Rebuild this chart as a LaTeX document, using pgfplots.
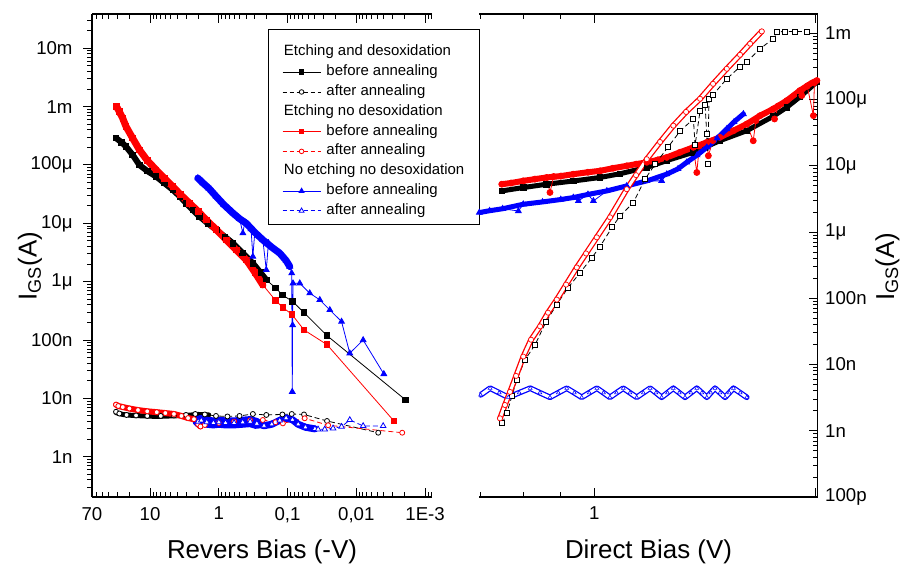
\documentclass[border=0pt]{standalone}
\usepackage{fontspec}
\setmainfont{Liberation Sans}
\usepackage{pgfplots}
\pgfplotsset{compat=1.18}

\pgfplotsset{
  ivband/.style={line width=#1, line join=round, line cap=round, forget plot},
  ivbefore/.style={line width=0.8bp, solid, forget plot},
  ivafter/.style={line width=0.8bp, dash pattern=on 5bp off 3bp, forget plot,
    mark options={solid, fill=white}},
}

\begin{document}
\begin{tikzpicture}
\useasboundingbox (0bp,0bp) rectangle (901bp,565bp);

% ---------------- reverse bias ----------------
\begin{axis}[
  scale only axis, height=483bp, width=340bp,
  xmode=log, ymode=log,
  axis line style={line width=1.2bp},
  tick style={black, line width=1bp},
  major tick length=9bp, minor tick length=5bp,
  tick label style={font=\fontsize{18.7}{21}\selectfont},
  xticklabel style={yshift=-6.5bp},
  yticklabel style={xshift=-7bp},
  label style={font=\fontsize{26}{30}\selectfont},
  xlabel style={at={(axis description cs:0.5,-0.127)}, anchor=base},
  at={(92bp,68bp)}, anchor=south west,
  x dir=reverse,
  xmin=7.93e-4, xmax=70,
  ymin=2.04e-10, ymax=0.0387,
  axis y line*=left, axis x line*=box,
  xtick align=inside, ytick align=outside,
  xtick={0.001,0.01,0.1,1,10,70},
  xticklabels={1E-3,{0,01},{0,1},1,10,70},
  minor xtick={8e-4,9e-4,2e-3,3e-3,4e-3,5e-3,6e-3,7e-3,8e-3,9e-3,
    0.02,0.03,0.04,0.05,0.06,0.07,0.08,0.09,0.2,0.3,0.4,0.5,0.6,0.7,0.8,0.9,
    2,3,4,5,6,7,8,9,20,30,40,50,60},
  ytick={1e-9,1e-8,1e-7,1e-6,1e-5,1e-4,1e-3,1e-2},
  yticklabels={1n,10n,100n,1μ,10μ,100μ,1m,10m},
  minor ytick={3e-10,4e-10,5e-10,6e-10,7e-10,8e-10,9e-10,
    2e-9,3e-9,4e-9,5e-9,6e-9,7e-9,8e-9,9e-9,
    2e-8,3e-8,4e-8,5e-8,6e-8,7e-8,8e-8,9e-8,
    2e-7,3e-7,4e-7,5e-7,6e-7,7e-7,8e-7,9e-7,
    2e-6,3e-6,4e-6,5e-6,6e-6,7e-6,8e-6,9e-6,
    2e-5,3e-5,4e-5,5e-5,6e-5,7e-5,8e-5,9e-5,
    2e-4,3e-4,4e-4,5e-4,6e-4,7e-4,8e-4,9e-4,
    2e-3,3e-3,4e-3,5e-3,6e-3,7e-3,8e-3,9e-3,2e-2,3e-2},
  xlabel={Revers Bias (-V)},
  ylabel={I\textsubscript{GS}(A)},
  ylabel style={at={(axis description cs:-0.1626,0.478)}, anchor=base},
  legend cell align=left,
  legend style={at={(0.5176,0.969)}, anchor=north west, draw=black,
    fill=white, inner xsep=14bp, inner ysep=4.7bp, row sep=2.8bp,
    column sep=4.5bp, font=\fontsize{15}{18}\selectfont,
    nodes={inner sep=1bp, text height=11bp, text depth=4bp}},
  legend image code/.code={%
    \draw[mark repeat=2, mark phase=2, #1]
      plot coordinates {(0bp,0bp) (19bp,0bp) (38bp,0bp)};},
]
% black: etching and desoxidation, before annealing
\addplot[black, ivband=6bp] coordinates {
 (31.3,2.89e-4) (26,2.45e-4) (22.4,2.07e-4) (18,1.5e-4) (14.3,1.0e-4)
 (11,7.9e-5) (8.18,6.35e-5) (6.2,4.9e-5) (4.68,3.76e-5) (3.7,2.9e-5)
 (2.99,2.22e-5) (2.4,1.7e-5) (1.91,1.31e-5) (1.45,1.0e-5) (1.09,7.74e-6)
 (0.82,5.9e-6) (0.625,4.57e-6) (0.45,3.1e-6) (0.32,2.07e-6) (0.25,1.45e-6)
 (0.204,1.07e-6)};
\addplot[black, ivbefore, mark=square*, mark size=2.8bp] coordinates {
 (31.3,2.89e-4) (26,2.45e-4) (22.4,2.07e-4) (18,1.5e-4) (14.3,1.0e-4)
 (11,7.9e-5) (8.18,6.35e-5) (6.2,4.9e-5) (4.68,3.76e-5) (3.7,2.9e-5)
 (2.99,2.22e-5) (2.4,1.7e-5) (1.91,1.31e-5) (1.45,1.0e-5) (1.09,7.74e-6)
 (0.82,5.9e-6) (0.625,4.57e-6) (0.45,3.1e-6) (0.32,2.07e-6) (0.25,1.45e-6)
 (0.204,1.07e-6) (0.149,7.83e-7) (0.119,5.94e-7) (0.0843,4.56e-7)
 (0.0577,2.95e-7) (0.0267,1.19e-7) (1.92e-3,9.4e-9)};
% red: etching no desoxidation, before annealing
\addplot[red, ivband=7bp] coordinates {
 (30.7,1.0e-3) (28,8.2e-4) (25,6.3e-4) (22.4,4.57e-4) (18,2.9e-4)
 (14.3,1.82e-4) (11,1.2e-4) (8.18,8.28e-5) (6.2,5.9e-5) (4.68,4.28e-5)
 (3.6,3.1e-5) (2.67,2.22e-5) (2.0,1.6e-5) (1.53,1.15e-5) (1.1,7.9e-6)
 (0.78,5.21e-6) (0.56,3.5e-6) (0.399,2.37e-6) (0.3,1.45e-6) (0.229,8.8e-7)};
\addplot[red, ivbefore, mark=square*, mark size=2.8bp] coordinates {
 (30.7,1.0e-3) (28,8.2e-4) (25,6.3e-4) (22.4,4.57e-4) (18,2.9e-4)
 (14.3,1.82e-4) (11,1.2e-4) (8.18,8.28e-5) (6.2,5.9e-5) (4.68,4.28e-5)
 (3.6,3.1e-5) (2.67,2.22e-5) (2.0,1.6e-5) (1.53,1.15e-5) (1.1,7.9e-6)
 (0.78,5.21e-6) (0.56,3.5e-6) (0.399,2.37e-6) (0.3,1.45e-6) (0.229,8.8e-7)
 (0.149,4.74e-7) (0.117,3.6e-7) (0.087,2.77e-7) (0.0577,1.49e-7)
 (0.0267,8.34e-8) (2.84e-3,4.1e-9)};
% blue: no etching no desoxidation, before annealing
\addplot[blue, ivband=7bp] coordinates {
 (2.02,5.96e-5) (1.7,4.9e-5) (1.4,4.0e-5) (1.09,2.88e-5) (0.85,2.1e-5)
 (0.625,1.5e-5) (0.5,1.2e-5) (0.399,1.0e-5) (0.3,7.0e-6) (0.229,5.2e-6)
 (0.17,3.9e-6) (0.13,3.08e-6) (0.105,2.3e-6) (0.093,1.82e-6)};
\addplot[blue, ivbefore, mark=triangle*, mark size=3.3bp] coordinates {
 (2.02,5.96e-5) (1.7,4.9e-5) (1.4,4.0e-5) (1.09,2.88e-5) (0.85,2.1e-5)
 (0.625,1.5e-5) (0.5,1.2e-5) (0.447,6.8e-6) (0.42,1.05e-5) (0.399,1.0e-5)
 (0.34,8.0e-6) (0.32,2.7e-6) (0.3,7.0e-6) (0.229,5.2e-6) (0.204,1.59e-6)
 (0.19,4.6e-6) (0.17,3.9e-6) (0.13,3.08e-6) (0.105,2.3e-6) (0.093,1.82e-6)
 (0.087,1.4e-6) (0.0855,1.3e-8) (0.0845,1.8e-7) (0.0834,9.4e-7)
 (0.0665,9.4e-7) (0.0476,6.35e-7) (0.034,4.88e-7) (0.0243,3.28e-7)
 (0.0164,2.07e-7) (0.01245,5.94e-8) (7.96e-3,1.0e-7) (3.98e-3,2.62e-8)};
% after annealing
\addplot[black, ivband=5bp] coordinates {
 (31.3,5.7e-9) (25,5.3e-9) (18,5.1e-9) (12,5.0e-9) (8,4.9e-9) (5,5.0e-9)
 (3,5.1e-9) (2.0,5.3e-9) (1.4,5.2e-9)};
\addplot[black, ivafter, mark=*, mark size=2.5bp] coordinates {
 (31.3,5.9e-9) (28,5.5e-9) (22,5.2e-9) (16,5.1e-9) (11,5.0e-9) (7,5.0e-9)
 (4.5,5.1e-9) (3,5.2e-9) (2.2,5.4e-9) (1.6,5.3e-9) (1.1,5.0e-9)
 (0.75,4.9e-9) (0.5,5.0e-9) (0.32,5.4e-9) (0.204,5.2e-9) (0.119,5.3e-9)
 (0.087,5.4e-9) (0.0577,5.3e-9) (0.0267,4.1e-9) (4.8e-3,2.58e-9)};
\addplot[red, ivband=6bp] coordinates {
 (31.3,7.8e-9) (29,7.4e-9) (25,7.1e-9) (20,6.7e-9) (15,6.3e-9) (11,6.0e-9)
 (8,5.8e-9) (6,5.6e-9) (4.5,5.4e-9) (3.5,5.0e-9) (2.8,4.6e-9) (2.3,4.4e-9)
 (2.0,3.6e-9) (1.85,3.3e-9)};
\addplot[red, ivafter, mark=*, mark size=2.5bp] coordinates {
 (31.3,7.8e-9) (29,7.4e-9) (25,7.1e-9) (20,6.7e-9) (15,6.3e-9) (11,6.0e-9)
 (8,5.8e-9) (6,5.6e-9) (4.5,5.4e-9) (3.5,5.0e-9) (2.8,4.6e-9) (2.3,4.4e-9)
 (2.0,3.6e-9) (1.85,3.3e-9) (1.6,3.5e-9) (1.0,3.8e-9) (0.6,4.0e-9)
 (0.35,4.2e-9) (0.229,4.26e-9) (0.15,3.9e-9) (0.117,3.73e-9)
 (0.0564,4.56e-9) (0.0257,3.46e-9) (2.15e-3,2.58e-9)};
\addplot[blue, ivband=11bp] coordinates {
 (2.0,4.0e-9) (1.8,4.2e-9) (1.5,3.9e-9) (1.2,3.8e-9) (1.0,3.9e-9)
 (0.8,3.8e-9) (0.6,3.8e-9) (0.45,3.9e-9) (0.35,4.0e-9) (0.28,3.7e-9)};
\addplot[blue, ivband=7bp] coordinates {
 (0.28,3.7e-9) (0.22,3.4e-9) (0.17,3.6e-9) (0.13,4.2e-9) (0.105,4.6e-9)
 (0.085,4.3e-9) (0.07,3.6e-9) (0.055,3.2e-9) (0.04,3.0e-9)};
\addplot[blue, ivafter, mark=triangle*, mark size=3.2bp] coordinates {
 (2.0,4.0e-9) (1.8,4.2e-9) (1.5,3.9e-9) (1.2,3.8e-9) (1.0,3.9e-9)
 (0.8,3.8e-9) (0.6,3.8e-9) (0.45,3.9e-9) (0.35,4.0e-9) (0.28,3.7e-9)
 (0.22,3.4e-9) (0.17,3.6e-9) (0.13,4.2e-9) (0.105,4.6e-9) (0.085,4.3e-9)
 (0.07,3.6e-9) (0.055,3.2e-9) (0.04,3.0e-9) (0.036,2.95e-9)
 (0.0288,2.95e-9) (0.0218,3.07e-9) (0.0164,3.27e-9) (0.01245,4.27e-9)
 (7.96e-3,3.37e-9) (4.07e-3,3.37e-9)};

% legend
\addlegendimage{empty legend}
\addlegendentry[text height=21bp]{\hspace*{-42.5bp}Etching and desoxidation}
\addlegendimage{black, line width=0.8bp, mark=square*, mark size=2.3bp}
\addlegendentry{before annealing}
\addlegendimage{black, line width=0.8bp, dash pattern=on 4bp off 3bp,
  mark=*, mark size=2.3bp, mark options={solid, fill=white}}
\addlegendentry{after annealing}
\addlegendimage{empty legend}
\addlegendentry{\hspace*{-42.5bp}Etching no desoxidation}
\addlegendimage{red, line width=0.8bp, mark=square*, mark size=2.3bp}
\addlegendentry{before annealing}
\addlegendimage{red, line width=0.8bp, dash pattern=on 4bp off 3bp,
  mark=*, mark size=2.3bp, mark options={solid, fill=white}}
\addlegendentry{after annealing}
\addlegendimage{empty legend}
\addlegendentry{\hspace*{-42.5bp}No etching no desoxidation}
\addlegendimage{blue, line width=0.8bp, mark=triangle*, mark size=2.8bp}
\addlegendentry{before annealing}
\addlegendimage{blue, line width=0.8bp, dash pattern=on 4bp off 3bp,
  mark=triangle*, mark size=2.8bp, mark options={solid, fill=white}}
\addlegendentry{after annealing}
\end{axis}

% ---------------- direct bias ----------------
\begin{axis}[
  scale only axis, height=483bp, width=338.4bp,
  xmode=log, ymode=log,
  axis line style={line width=1.2bp},
  tick style={black, line width=1bp},
  major tick length=9bp, minor tick length=5bp,
  tick label style={font=\fontsize{18.7}{21}\selectfont},
  xticklabel style={yshift=-6.5bp},
  yticklabel style={xshift=4bp},
  label style={font=\fontsize{26}{30}\selectfont},
  xlabel style={at={(axis description cs:0.5,-0.127)}, anchor=base},
  at={(479.3bp,68bp)}, anchor=south west,
  xmin=0.697, xmax=2.015,
  ymin=1e-10, ymax=1.96e-3,
  axis y line*=right, axis x line*=box,
  xtick align=inside, ytick align=inside,
  xtick={1,2}, xticklabels={1,{}},
  minor xtick={0.7,0.8,0.9},
  ytick={1e-10,1e-9,1e-8,1e-7,1e-6,1e-5,1e-4,1e-3},
  yticklabels={100p,1n,10n,100n,1μ,10μ,100μ,1m},
  minor ytick={2e-10,3e-10,4e-10,5e-10,6e-10,7e-10,8e-10,9e-10,
    2e-9,3e-9,4e-9,5e-9,6e-9,7e-9,8e-9,9e-9,
    2e-8,3e-8,4e-8,5e-8,6e-8,7e-8,8e-8,9e-8,
    2e-7,3e-7,4e-7,5e-7,6e-7,7e-7,8e-7,9e-7,
    2e-6,3e-6,4e-6,5e-6,6e-6,7e-6,8e-6,9e-6,
    2e-5,3e-5,4e-5,5e-5,6e-5,7e-5,8e-5,9e-5,
    2e-4,3e-4,4e-4,5e-4,6e-4,7e-4,8e-4,9e-4},
  xlabel={Direct Bias (V)},
  ylabel={I\textsubscript{GS}(A)},
  ylabel style={at={(axis description cs:1.2255,0.4768)}, anchor=base},
]
% before annealing
\addplot[black, ivband=5bp] coordinates {
 (0.748,4.18e-6) (0.80,4.7e-6) (0.861,5.28e-6) (0.936,5.9e-6) (1.018,6.67e-6)
 (1.084,7.6e-6) (1.179,9.46e-6) (1.255,1.2e-5) (1.364,1.6e-5) (1.483,2.4e-5)
 (1.613,3.39e-5) (1.753,5.6e-5) (1.829,7.67e-5) (1.906,1.1e-4) (2.009,1.84e-4)};
\addplot[black, ivbefore, mark=square*, mark size=2.8bp] coordinates {
 (0.748,4.18e-6) (0.80,4.7e-6) (0.861,5.28e-6) (0.936,5.9e-6) (1.018,6.67e-6)
 (1.084,7.6e-6) (1.179,9.46e-6) (1.255,1.2e-5) (1.364,1.6e-5) (1.483,2.4e-5)
 (1.613,3.39e-5) (1.753,5.6e-5) (1.829,7.67e-5) (1.906,1.1e-4) (2.009,1.84e-4)};
\addplot[red, ivband=6bp] coordinates {
 (0.748,5.28e-6) (0.77,5.5e-6) (0.80,5.93e-6) (0.83,6.3e-6) (0.861,6.67e-6)
 (0.9,7.0e-6) (0.936,7.48e-6) (0.98,8.0e-6) (1.018,8.4e-6) (1.06,9.2e-6)
 (1.107,1.0e-5) (1.14,1.06e-5) (1.179,1.13e-5) (1.22,1.23e-5) (1.255,1.34e-5)
 (1.308,1.6e-5) (1.364,1.9e-5) (1.423,2.26e-5) (1.483,2.69e-5) (1.547,3.39e-5)
 (1.613,4.28e-5) (1.682,5.72e-5) (1.753,7.23e-5) (1.829,9.66e-5)
 (1.906,1.37e-4) (1.98,1.8e-4) (2.01,1.94e-4)};
\addplot[red, ivbefore, mark=*, mark size=3bp] coordinates {
 (0.748,5.28e-6) (0.77,5.5e-6) (0.80,5.93e-6) (0.83,6.3e-6) (0.861,6.67e-6)
 (0.870,3.96e-6) (0.88,6.9e-6) (0.9,7.0e-6) (0.936,7.48e-6) (0.98,8.0e-6)
 (1.018,8.4e-6) (1.06,9.2e-6) (1.107,1.0e-5) (1.14,1.06e-5) (1.179,1.13e-5)
 (1.22,1.23e-5) (1.255,1.34e-5) (1.308,1.6e-5) (1.364,1.9e-5) (1.379,7.94e-6)
 (1.39,2.0e-5) (1.423,2.26e-5) (1.43,1.42e-5) (1.45,2.4e-5) (1.483,2.69e-5)
 (1.547,3.39e-5) (1.613,4.28e-5) (1.646,2.39e-5) (1.66,4.8e-5)
 (1.682,5.72e-5) (1.753,7.23e-5) (1.76,5.1e-5) (1.78,8.0e-5) (1.829,9.66e-5)
 (1.906,1.37e-4) (1.917,1.15e-4) (1.95,1.6e-4) (1.988,5.72e-5)
 (1.995,1.8e-4) (2.01,1.94e-4)};
\addplot[blue, ivband=5bp] coordinates {
 (0.697,1.97e-6) (0.72,2.1e-6) (0.75,2.25e-6) (0.80,2.63e-6) (0.85,2.85e-6)
 (0.9,3.1e-6) (0.936,3.32e-6) (0.98,3.7e-6) (1.04,4.18e-6) (1.107,4.98e-6)
 (1.179,5.93e-6) (1.255,7.48e-6) (1.3,9.0e-6) (1.336,1.13e-5) (1.38,1.45e-5)
 (1.423,1.9e-5) (1.47,2.6e-5) (1.515,3.6e-5) (1.55,4.6e-5) (1.596,6.07e-5)};
\addplot[blue, ivbefore, mark=triangle*, mark size=3.3bp] coordinates {
 (0.697,1.97e-6) (0.72,2.1e-6) (0.75,2.25e-6) (0.788,2.08e-6) (0.80,2.63e-6)
 (0.85,2.85e-6) (0.9,3.1e-6) (0.936,3.32e-6) (0.951,2.95e-6) (0.98,3.7e-6)
 (0.997,2.95e-6) (1.04,4.18e-6) (1.107,4.98e-6) (1.179,5.93e-6)
 (1.235,5.93e-6) (1.255,7.48e-6) (1.3,9.0e-6) (1.336,1.13e-5) (1.38,1.45e-5)
 (1.423,1.9e-5) (1.47,2.6e-5) (1.515,3.6e-5) (1.55,4.6e-5) (1.596,6.07e-5)};
% after annealing
\addplot[black, ivafter, mark=square*, mark size=2.5bp] coordinates {
 (0.7491,1.3e-9) (0.7598,1.84e-9) (0.7724,3.36e-9) (0.7839,5.86e-9)
 (0.8045,1.18e-8) (0.8303,1.99e-8) (0.8594,4.44e-8) (0.8887,8.03e-8)
 (0.9208,1.45e-7) (0.9561,2.43e-7) (0.9928,4.14e-7) (1.0181,6.07e-7)
 (1.0571,1.18e-6) (1.0839,1.75e-6) (1.1301,2.79e-6) (1.1722,6.28e-6)
 (1.2099,1.06e-5) (1.2602,1.92e-5) (1.3089,3.36e-5) (1.3643,5.1e-5)
 (1.3716,2.06e-5) (1.3932,6.75e-5) (1.4152,8.32e-5) (1.4228,3.02e-5)
 (1.4263,1.06e-5) (1.4331,1.03e-4) (1.4511,1.18e-4) (1.515,2.06e-4)
 (1.5794,3.13e-4) (1.6127,3.69e-4) (1.6817,5.86e-4) (1.7536,8.32e-4)
 (1.7723,1.05e-3) (1.8196,1.07e-3) (1.8771,1.07e-3) (1.9469,1.07e-3)};
\addplot[blue, ivband=1.3bp, double=white, double distance=3bp] coordinates {
 (0.70,3.48e-9) (0.721,4.39e-9) (0.742,3.75e-9) (0.7635,3.2e-9) (0.790,3.75e-9)
 (0.8176,4.39e-9) (0.843,3.75e-9) (0.870,3.2e-9) (0.893,3.75e-9) (0.917,4.39e-9)
 (0.939,3.75e-9) (0.961,3.2e-9) (0.984,3.75e-9) (1.008,4.39e-9) (1.029,3.75e-9)
 (1.050,3.2e-9) (1.072,3.75e-9) (1.095,4.39e-9) (1.118,3.75e-9) (1.142,3.2e-9)
 (1.166,3.75e-9) (1.191,4.39e-9) (1.213,3.75e-9) (1.235,3.2e-9) (1.258,3.75e-9)
 (1.281,4.39e-9) (1.305,3.75e-9) (1.329,3.2e-9) (1.354,3.75e-9) (1.379,4.39e-9)
 (1.401,3.75e-9) (1.423,3.2e-9) (1.441,3.75e-9) (1.460,4.39e-9) (1.483,3.75e-9)
 (1.507,3.2e-9) (1.527,3.75e-9) (1.547,4.39e-9) (1.58,3.75e-9) (1.613,3.2e-9)};
\addplot[blue, only marks, forget plot, mark=triangle*, mark size=2.2bp,
  mark options={fill=white, line width=0.6bp}] coordinates {
 (0.70,3.48e-9) (0.721,4.39e-9) (0.742,3.75e-9) (0.7635,3.2e-9) (0.790,3.75e-9)
 (0.8176,4.39e-9) (0.843,3.75e-9) (0.870,3.2e-9) (0.893,3.75e-9) (0.917,4.39e-9)
 (0.939,3.75e-9) (0.961,3.2e-9) (0.984,3.75e-9) (1.008,4.39e-9) (1.029,3.75e-9)
 (1.050,3.2e-9) (1.072,3.75e-9) (1.095,4.39e-9) (1.118,3.75e-9) (1.142,3.2e-9)
 (1.166,3.75e-9) (1.191,4.39e-9) (1.213,3.75e-9) (1.235,3.2e-9) (1.258,3.75e-9)
 (1.281,4.39e-9) (1.305,3.75e-9) (1.329,3.2e-9) (1.354,3.75e-9) (1.379,4.39e-9)
 (1.401,3.75e-9) (1.423,3.2e-9) (1.441,3.75e-9) (1.460,4.39e-9) (1.483,3.75e-9)
 (1.507,3.2e-9) (1.527,3.75e-9) (1.547,4.39e-9) (1.58,3.75e-9) (1.613,3.2e-9)};
\addplot[red, ivband=1.3bp, double=white, double distance=3bp] coordinates {
 (0.7438,1.54e-9) (0.7555,2.45e-9) (0.7675,3.86e-9) (0.7823,6.74e-9)
 (0.8002,1.32e-8) (0.8198,2.37e-8) (0.8434,3.77e-8) (0.8647,6.07e-8)
 (0.8888,9.55e-8) (0.9151,1.61e-7) (0.9463,2.92e-7) (0.9743,4.75e-7)
 (1.0076,8.32e-7) (1.0505,1.67e-6) (1.1069,4.44e-6) (1.1397,7.23e-6)
 (1.1786,1.26e-5) (1.2288,2.29e-5) (1.2811,4.04e-5) (1.3334,6.51e-5)
 (1.3932,1.03e-4) (1.4511,1.73e-4) (1.515,2.92e-4) (1.5794,4.75e-4)
 (1.6301,6.98e-4) (1.6907,1.07e-3)};
\addplot[red, only marks, forget plot, mark=*, mark size=2.6bp,
  mark options={fill=white, line width=0.7bp}] coordinates {
 (0.7438,1.54e-9) (0.7555,2.45e-9) (0.7675,3.86e-9) (0.7823,6.74e-9)
 (0.8002,1.32e-8) (0.8198,2.37e-8) (0.8434,3.77e-8) (0.8647,6.07e-8)
 (0.8888,9.55e-8) (0.9151,1.61e-7) (0.9463,2.92e-7) (0.9743,4.75e-7)
 (1.0076,8.32e-7) (1.0505,1.67e-6) (1.1069,4.44e-6) (1.1397,7.23e-6)
 (1.1786,1.26e-5) (1.2288,2.29e-5) (1.2811,4.04e-5) (1.3334,6.51e-5)
 (1.3932,1.03e-4) (1.4511,1.73e-4) (1.515,2.92e-4) (1.5794,4.75e-4)
 (1.6301,6.98e-4) (1.6907,1.07e-3)};
\end{axis}
\end{tikzpicture}
\end{document}
